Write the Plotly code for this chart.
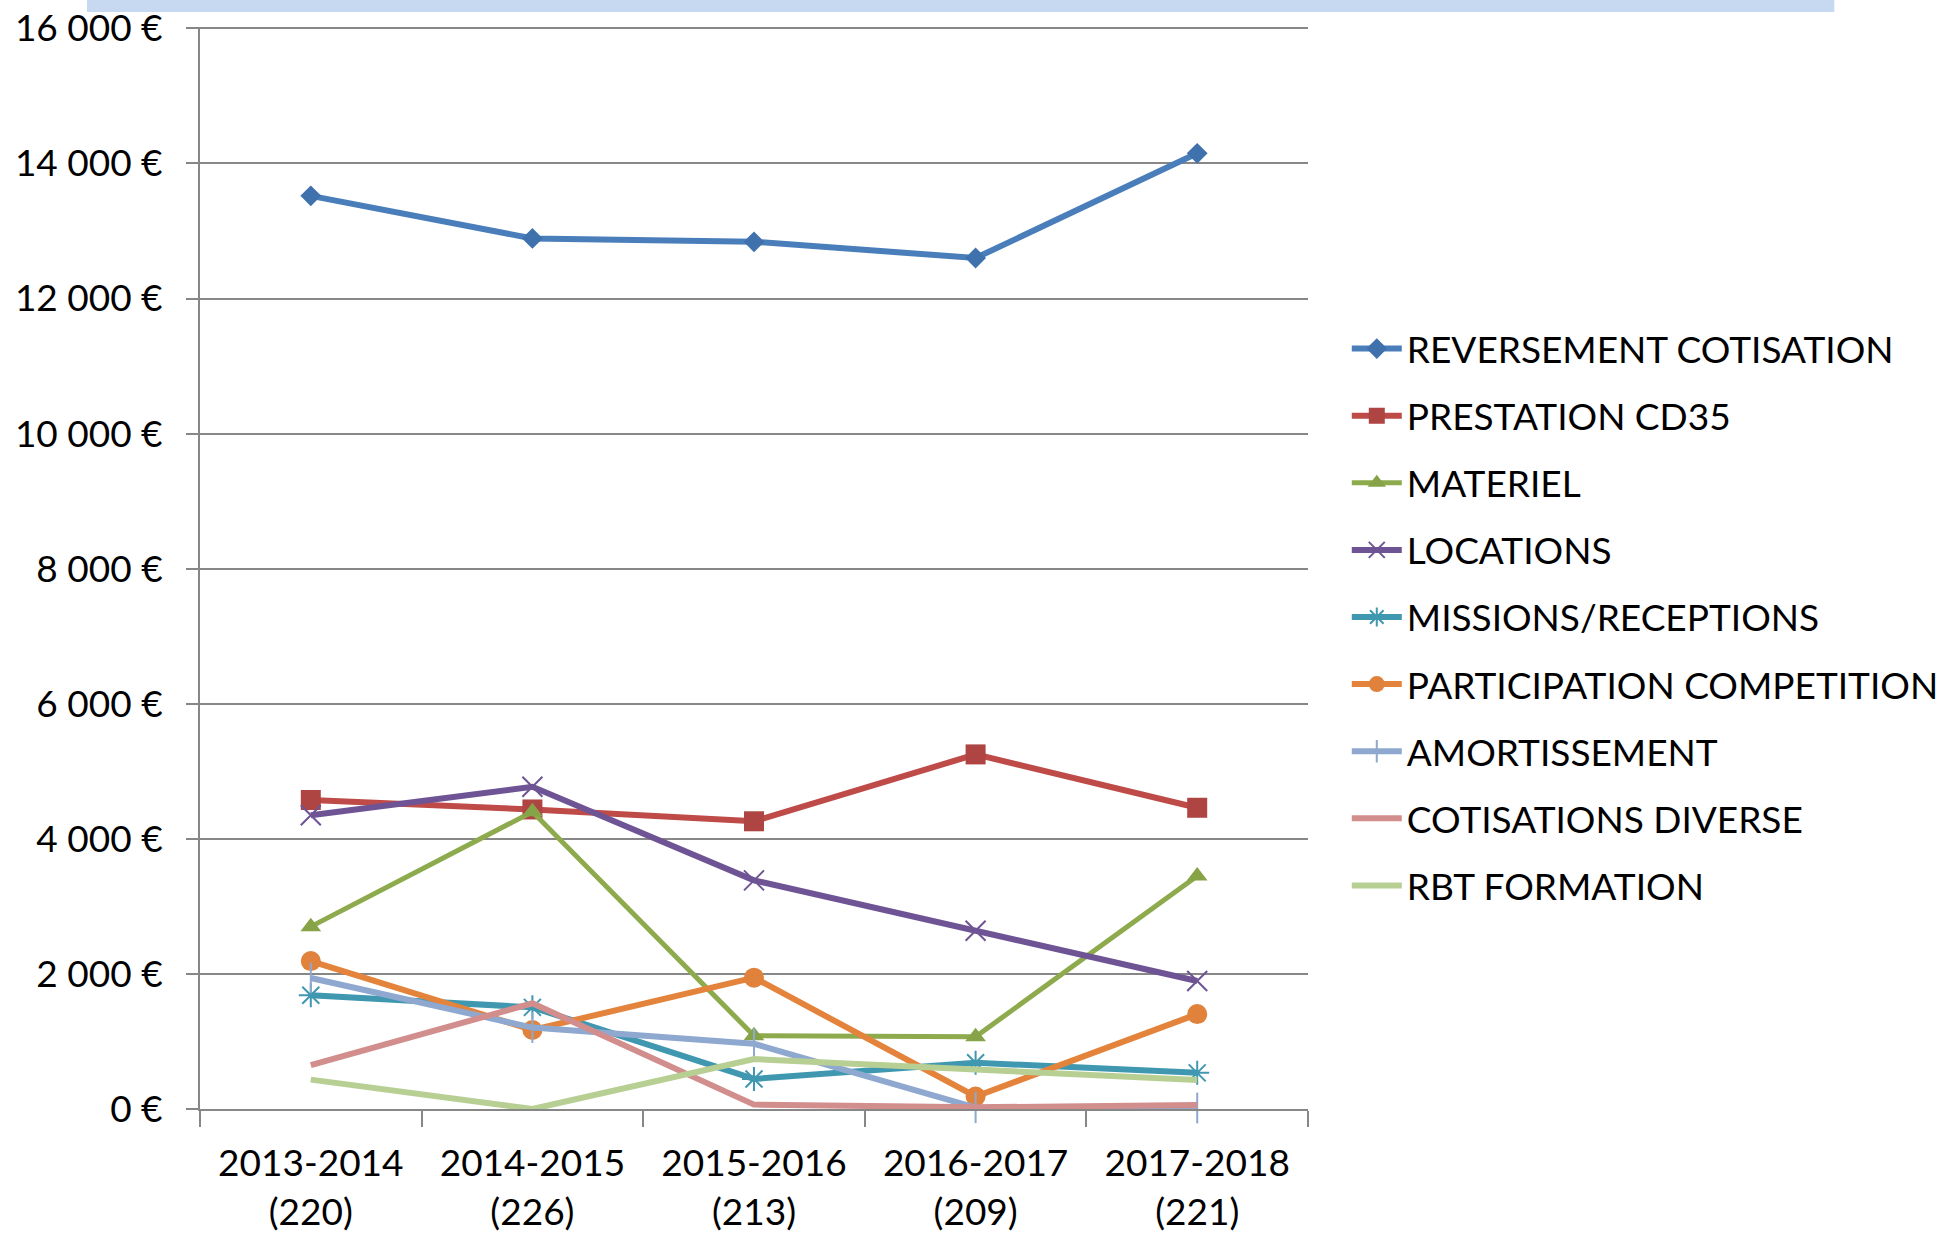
import plotly.graph_objects as go

categories = ["2013-2014<br>(220)", "2014-2015<br>(226)", "2015-2016<br>(213)",
              "2016-2017<br>(209)", "2017-2018<br>(221)"]

reversement_cotisation = [13520, 12890, 12840, 12600, 14150]
prestation_cd35 = [4575, 4435, 4260, 5250, 4460]
materiel = [2700, 4400, 1085, 1070, 3450]
locations = [4350, 4770, 3385, 2640, 1895]
missions_receptions = [1685, 1505, 445, 685, 535]
participation_competition = [2190, 1170, 1945, 185, 1405]
amortissement = [1940, 1205, 965, 20, 15]
cotisations_diverse = [650, 1565, 65, 25, 60]
rbt_formation = [435, 0, 740, 575, 430]

y_ticks = [0, 2000, 4000, 6000, 8000, 10000, 12000, 14000, 16000]
y_ticktext = [f"{v:,}".replace(",", " ") + " €" for v in y_ticks]

series = [
    ("REVERSEMENT COTISATION", reversement_cotisation, "#4A7EBB", 6, "diamond", 16, "#3F71AD"),
    ("PRESTATION CD35", prestation_cd35, "#BE4B48", 6, "square", 20, "#AE4542"),
    ("MATERIEL", materiel, "#8DAB4D", 5, "triangle-up", 18, "#86A447"),
    ("LOCATIONS", locations, "#6E5494", 6, "x-thin-open", 20, "#6E5494"),
    ("MISSIONS/RECEPTIONS", missions_receptions, "#3F98B0", 6, "asterisk-open", 20, "#3F98B0"),
    ("PARTICIPATION COMPETITION", participation_competition, "#E4843C", 6, "circle", 20, "#E0823B"),
    ("AMORTISSEMENT", amortissement, "#8FA8D0", 6, "line-ns-open", 22, "#8FA8D0"),
    ("COTISATIONS DIVERSE", cotisations_diverse, "#D28D8D", 6, None, 0, None),
    ("RBT FORMATION", rbt_formation, "#B8CF94", 6, None, 0, None),
]

fig = go.Figure()
for i, (name, vals, color, lw, sym, size, mcol) in enumerate(series):
    if sym is None:
        fig.add_trace(go.Scatter(x=categories, y=vals, name=name, mode="lines",
                                 line=dict(color=color, width=lw),
                                 legendgroup=f"g{i}", cliponaxis=False))
    else:
        open_sym = sym.endswith("-open")
        marker = dict(symbol=sym, size=size, color=mcol)
        if open_sym:
            marker["line"] = dict(color=mcol, width=2)
        else:
            marker["line"] = dict(width=0)
        fig.add_trace(go.Scatter(x=categories, y=vals, name=name, mode="lines+markers",
                                 line=dict(color=color, width=lw), marker=marker,
                                 legendgroup=f"g{i}", cliponaxis=False))

grid = "#878787"
fig.update_layout(
    width=1959, height=1238,
    margin=dict(l=200, r=651, t=27, b=129),
    paper_bgcolor="white", plot_bgcolor="white",
    font=dict(family="Lato", size=37, color="black"),
    showlegend=True,
    legend=dict(x=1.035, y=0.731, xanchor="left", yanchor="top",
                font=dict(size=37), tracegroupgap=16, itemwidth=50,
                bgcolor="rgba(0,0,0,0)"),
    xaxis=dict(type="category", range=[-0.5, 4.5], showgrid=False, showline=True,
               linecolor=grid, linewidth=2,
               ticks="outside", ticklen=16, tickwidth=2, tickcolor=grid,
               tickson="boundaries", ticklabelstandoff=21, zeroline=False,
               automargin=False),
    yaxis=dict(range=[0, 16020], tickmode="array", tickvals=y_ticks, ticktext=y_ticktext,
               showgrid=True, gridcolor=grid, gridwidth=2,
               showline=True, linecolor=grid, linewidth=2,
               ticks="outside", ticklen=12, tickwidth=2, tickcolor=grid,
               ticklabelstandoff=16, zeroline=False, automargin=False,
               ticklabeloverflow="allow"),
    shapes=[dict(type="rect", xref="paper", yref="paper",
                 x0=-0.102, x1=1.475, y0=1.0139, y1=1.04,
                 fillcolor="#C6D9F1", line=dict(width=0), layer="above")],
)

fig.write_html("out.html", config={"displayModeBar": False},
               post_script="document.body.style.margin='0';")
